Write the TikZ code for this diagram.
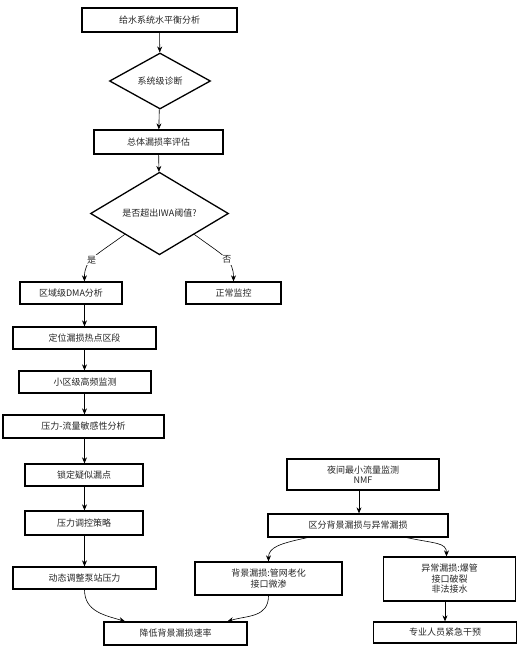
\documentclass[tikz,border=0pt]{standalone}
\usepackage{fontspec}
\setmainfont{Noto Sans CJK SC}
\usetikzlibrary{shapes.geometric,arrows.meta,calc}
\begin{document}
\begin{tikzpicture}[x=1pt,y=1pt,
  every node/.style={font=\fontsize{9pt}{10.5pt}\selectfont, text=black!85},
  boxn/.style={draw, line width=1.3pt, inner sep=0pt, align=center},
  dia/.style={draw, diamond, line width=1.3pt, inner sep=0pt},
  arr/.style={-{Stealth[length=6pt,width=5pt]}, line width=0.6pt},
  lab/.style={font=\fontsize{9pt}{10pt}\selectfont, fill=white, inner sep=1pt}]
\useasboundingbox (0,0) rectangle (518,-651);
\fill[white] (0,0) rectangle (518,-651);
% left column
\node[boxn, minimum width=155pt, minimum height=24pt] (b1) at (159.5,-20) {给水系统水平衡分析};
\node[dia, minimum width=101pt, minimum height=56pt] (d1) at (160,-81) {系统级诊断};
\node[boxn, minimum width=129pt, minimum height=24pt] (b2) at (158.5,-142) {总体漏损率评估};
\node[dia, minimum width=138pt, minimum height=78pt] (d2) at (159.5,-213.5) {是否超出IWA阈值?};
\node[boxn, minimum width=102pt, minimum height=22pt] (dma) at (71,-293) {区域级DMA分析};
\node[boxn, minimum width=95pt, minimum height=22pt] (nm) at (233.5,-293) {正常监控};
\node[boxn, minimum width=143pt, minimum height=22pt] (dw) at (84.5,-338) {定位漏损热点区段};
\node[boxn, minimum width=132pt, minimum height=22pt] (xq) at (85,-382) {小区级高频监测};
\node[boxn, minimum width=161pt, minimum height=23pt] (yl) at (83.5,-426.5) {压力-流量敏感性分析};
\node[boxn, minimum width=118pt, minimum height=22pt] (sd) at (84,-475) {锁定疑似漏点};
\node[boxn, minimum width=118pt, minimum height=24pt] (tk) at (84,-523) {压力调控策略};
\node[boxn, minimum width=143pt, minimum height=22pt] (dt) at (84.5,-578) {动态调整泵站压力};
\node[boxn, minimum width=143pt, minimum height=23pt] (jd) at (175.5,-633.5) {降低背景漏损速率};
% right column
\node[boxn, minimum width=152pt, minimum height=31pt] (nmf) at (363,-474.5) {夜间最小流量监测\\NMF};
\node[boxn, minimum width=180pt, minimum height=23pt] (qf) at (358,-525.5) {区分背景漏损与异常漏损};
\node[boxn, minimum width=147pt, minimum height=33pt] (bj) at (268.5,-578.5) {背景漏损:管网老化\\接口微渗};
\node[boxn, minimum width=132pt, minimum height=44pt] (yc) at (449.5,-579) {异常漏损:爆管\\接口破裂\\非法接水};
\node[boxn, minimum width=143pt, minimum height=21pt] (zy) at (445,-632.5) {专业人员紧急干预};
% connectors
\draw[arr] (b1) -- (d1);
\draw[arr] (d1) -- (b2);
\draw[arr] (b2) -- (d2);
\coordinate (dmaIn) at ($(dma.north west)!0.63!(dma.north east)$);
\draw[arr] (d2.south west) .. controls +(-30,-22) and +(0,22) .. (dmaIn)
  node[pos=0.55, lab] {是};
\draw[arr] (d2.south east) .. controls +(30,-22) and +(0,22) .. (nm.north)
  node[pos=0.55, lab] {否};
\draw[arr] (dw.north |- dma.south) -- (dw.north);
\draw[arr] (dw.south) -- (dw.south |- xq.north);
\draw[arr] (dw.south |- xq.south) -- (dw.south |- yl.north);
\draw[arr] (dw.south |- yl.south) -- (dw.south |- sd.north);
\draw[arr] (dw.south |- sd.south) -- (dw.south |- tk.north);
\draw[arr] (dw.south |- tk.south) -- (dw.south |- dt.north);
\coordinate (jdL) at ($(jd.north west)!0.15!(jd.north east)$);
\coordinate (jdR) at ($(jd.north west)!0.86!(jd.north east)$);
\draw[arr] (dt.south) .. controls +(0,-22) and +(-20,6) .. (jdL);
\draw[arr] (bj.south) .. controls +(0,-22) and +(20,6) .. (jdR);
\draw[arr] (nmf.south -| qf.north) ++(1,0) coordinate (nmfOut) -- (nmfOut |- qf.north);
\coordinate (qfL) at ($(qf.south west)!0.22!(qf.south east)$);
\coordinate (qfR) at ($(qf.south west)!0.77!(qf.south east)$);
\draw[arr] (qfL) .. controls +(-28,-6) and +(0,14) .. (bj.north);
\draw[arr] (qfR) .. controls +(28,-6) and +(0,14) .. ($(yc.north)+(-3,0)$) coordinate (ycIn);
\draw[arr] (zy.north |- yc.south) -- (zy.north);
\end{tikzpicture}
\end{document}
